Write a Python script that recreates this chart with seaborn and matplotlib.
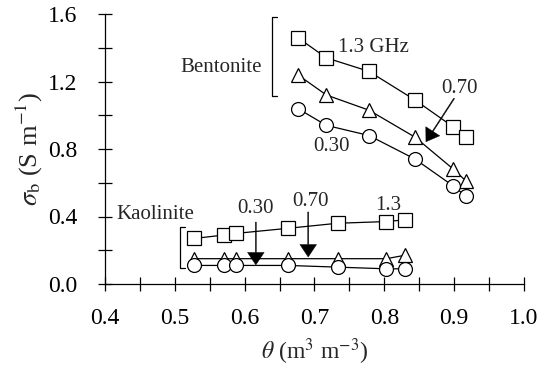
import numpy as np
import pandas as pd
import matplotlib
matplotlib.use("Agg")
import matplotlib.pyplot as plt
import seaborn as sns
from matplotlib.ticker import MultipleLocator

# ---- data ----
bent_theta = [0.676, 0.717, 0.778, 0.844, 0.899, 0.917]
bent_13 = [1.46, 1.34, 1.26, 1.09, 0.93, 0.87]
bent_070 = [1.24, 1.12, 1.03, 0.87, 0.68, 0.61]
bent_030 = [1.04, 0.94, 0.88, 0.74, 0.58, 0.52]

kao_theta = [0.528, 0.570, 0.588, 0.662, 0.733, 0.803, 0.829]
kao_13 = [0.27, 0.29, 0.30, 0.33, 0.36, 0.37, 0.38]
kao_070 = [0.15, 0.15, 0.15, 0.15, 0.15, 0.15, 0.17]
kao_030 = [0.11, 0.11, 0.11, 0.11, 0.10, 0.09, 0.09]

x_ticks = [0.4, 0.5, 0.6, 0.7, 0.8, 0.9, 1.0]
y_ticks = [0.0, 0.4, 0.8, 1.2, 1.6]

sns.set_theme(style="ticks")
plt.rcParams['font.family'] = ['Liberation Serif', 'DejaVu Serif']
plt.rcParams['mathtext.fontset'] = 'stix'

fig = plt.figure(figsize=(5.48, 3.72), dpi=100)
ax = fig.add_axes([105/548, 1-284/372, (524-105)/548, (284-14)/372])

series = [
    (bent_theta, bent_13, 's'), (bent_theta, bent_070, '^'), (bent_theta, bent_030, 'o'),
    (kao_theta, kao_13, 's'), (kao_theta, kao_070, '^'), (kao_theta, kao_030, 'o'),
]
for xs, ys, m in series:
    df = pd.DataFrame({'x': xs, 'y': ys})
    sns.lineplot(data=df, x='x', y='y', ax=ax, color='black', lw=0.9,
                 marker=m, markersize=10, markerfacecolor='white',
                 markeredgecolor='black', markeredgewidth=0.9, sort=False)

ax.set_xlim(0.4, 1.0)
ax.set_ylim(0.0, 1.6)
ax.set_xticks(x_ticks)
ax.set_xticklabels([f"{v:.1f}" for v in x_ticks])
ax.set_yticks(y_ticks)
ax.set_yticklabels([f"{v:.1f}" for v in y_ticks])
ax.xaxis.set_minor_locator(MultipleLocator(0.05))
ax.yaxis.set_minor_locator(MultipleLocator(0.2))
ax.tick_params(which='both', direction='inout', length=10, width=0.9, colors='black',
               labelsize=17)
ax.tick_params(axis='y', which='both', pad=15)
ax.tick_params(axis='x', which='both', pad=12)
for s in ['top', 'right']:
    ax.spines[s].set_visible(False)
for s in ['left', 'bottom']:
    ax.spines[s].set_color('black')
    ax.spines[s].set_linewidth(0.9)

ax.set_xlabel(r'$\theta$ (m$^3$ m$^{-3}$)', fontsize=17, labelpad=6)
ax.set_ylabel(r'$\sigma_\mathrm{b}$ (S m$^{-1}$)', fontsize=19, labelpad=2)

fs = 15
aprops = dict(facecolor='black', edgecolor='black', linewidth=0.3, width=0.7,
              headwidth=12, headlength=9, shrink=0.0)
# Bentonite annotations
ax.text(0.624, 1.28, 'Bentonite', ha='right', va='center', fontsize=fs)
ax.plot([0.646, 0.6386, 0.6386, 0.646], [1.582, 1.582, 1.114, 1.114], color='black', lw=0.9)
ax.text(0.733, 1.404, '1.3 GHz', ha='left', va='center', fontsize=fs)
ax.text(0.907, 1.16, '0.70', ha='center', va='center', fontsize=fs)
ax.annotate('', xy=(0.8596, 0.843), xytext=(0.9, 1.10), arrowprops=aprops)
ax.text(0.724, 0.812, '0.30', ha='center', va='center', fontsize=fs)

# Kaolinite annotations
ax.text(0.417, 0.409, 'Kaolinite', ha='left', va='center', fontsize=fs)
ax.plot([0.514, 0.507, 0.507, 0.514], [0.338, 0.338, 0.095, 0.095], color='black', lw=0.9)
ax.text(0.616, 0.45, '0.30', ha='center', va='center', fontsize=fs)
ax.annotate('', xy=(0.616, 0.113), xytext=(0.616, 0.367), arrowprops=aprops)
ax.text(0.694, 0.486, '0.70', ha='center', va='center', fontsize=fs)
ax.annotate('', xy=(0.691, 0.16), xytext=(0.691, 0.427), arrowprops=aprops)
ax.text(0.805, 0.468, '1.3', ha='center', va='center', fontsize=fs)

fig.savefig('out.png', dpi=100, facecolor='white')
